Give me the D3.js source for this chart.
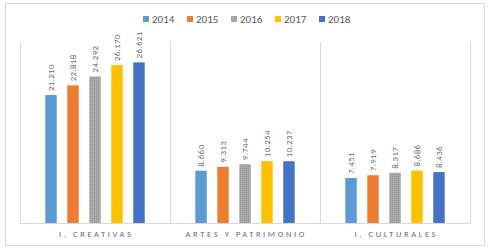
<!DOCTYPE html>
<html>
<head>
<meta charset="utf-8">
<script src="https://cdn.jsdelivr.net/npm/d3@7"></script>
<style>
  body { margin: 0; background: #fff; }
  svg text { font-family: Calibri, Carlito, "Liberation Sans", sans-serif; fill: #595959; }
</style>
</head>
<body>
<div id="chart"></div>
<script>
var categories = ["I. CREATIVAS", "ARTES Y PATRIMONIO", "I. CULTURALES"];
var years = ["2014", "2015", "2016", "2017", "2018"];
var values2014 = [21210, 8660, 7451];
var values2015 = [22818, 9313, 7919];
var values2016 = [24292, 9744, 8317];
var values2017 = [26170, 10254, 8686];
var values2018 = [26621, 10237, 8436];
var colors = ["#5b9bd5", "#ed7d31", "url(#grayDots)", "#ffc000", "#4472c4"];
var legendColors = ["#5b9bd5", "#ed7d31", "#a5a5a5", "#ffc000", "#4472c4"];

var series = [values2014, values2015, values2016, values2017, values2018];

var width = 488,
  height = 250,
  margin = { top: 42, right: 18, bottom: 27, left: 20 },
  innerWidth = width - margin.left - margin.right,
  innerHeight = height - margin.top - margin.bottom;

var svg = d3.select("#chart").append("svg")
  .attr("width", width)
  .attr("height", height);

// textured gray like the original
var defs = svg.append("defs");
var pat = defs.append("pattern")
  .attr("id", "grayDots")
  .attr("width", 2).attr("height", 2)
  .attr("patternUnits", "userSpaceOnUse");
pat.append("rect").attr("width", 2).attr("height", 2).attr("fill", "#a5a5a5");
pat.append("rect").attr("width", 1).attr("height", 1).attr("fill", "#999999");
pat.append("rect").attr("x", 1).attr("y", 1).attr("width", 1).attr("height", 1).attr("fill", "#b0b0b0");

// outer frame
svg.append("rect")
  .attr("x", 5.5).attr("y", 3.5)
  .attr("width", 479).attr("height", 242)
  .attr("fill", "none")
  .attr("stroke", "#d9d9d9");

var g = svg.append("g")
  .attr("transform", "translate(" + margin.left + "," + margin.top + ")");

var x0 = d3.scaleBand()
  .domain(categories)
  .range([0, innerWidth]);

var x1 = d3.scaleBand()
  .domain(years)
  .range([0, x0.bandwidth()])
  .paddingInner(0.48)
  .paddingOuter(1.15);

var y = d3.scaleLinear()
  .domain([0, 30000])
  .range([innerHeight, 0]);

var fmt = function (v) { return d3.format(",")(v).replace(/,/g, "."); };

// category separators
var seps = d3.range(categories.length + 1).map(function (i) { return i * x0.step(); });
g.selectAll(".sep")
  .data(seps)
  .enter().append("line")
  .attr("class", "sep")
  .attr("x1", function (d) { return Math.round(d) + 0.5; })
  .attr("x2", function (d) { return Math.round(d) + 0.5; })
  .attr("y1", 0)
  .attr("y2", innerHeight)
  .attr("stroke", "#d9d9d9");

g.append("line")
  .attr("x1", 0).attr("x2", innerWidth)
  .attr("y1", innerHeight + 0.5).attr("y2", innerHeight + 0.5)
  .attr("stroke", "#d9d9d9");

var groups = g.selectAll(".group")
  .data(categories)
  .enter().append("g")
  .attr("class", "group")
  .attr("transform", function (d) { return "translate(" + x0(d) + ",0)"; });

groups.each(function (cat, ci) {
  var grp = d3.select(this);
  var data = years.map(function (yr, si) { return { year: yr, value: series[si][ci], i: si }; });

  grp.selectAll("rect")
    .data(data)
    .enter().append("rect")
    .attr("x", function (d) { return x1(d.year); })
    .attr("y", function (d) { return y(d.value); })
    .attr("width", x1.bandwidth())
    .attr("height", function (d) { return innerHeight - y(d.value); })
    .attr("fill", function (d) { return colors[d.i]; });

  grp.selectAll(".lbl")
    .data(data)
    .enter().append("text")
    .attr("class", "lbl")
    .attr("transform", function (d) {
      return "translate(" + (x1(d.year) + x1.bandwidth() / 2 + 3) + "," + (y(d.value) - 4) + ") rotate(-90)";
    })
    .style("font-size", "9px")
    .style("letter-spacing", "0.3px")
    .style("fill", "#6b6b6b")
    .text(function (d) { return fmt(d.value); });
});

// category labels
g.selectAll(".cat")
  .data(categories)
  .enter().append("text")
  .attr("class", "cat")
  .attr("x", function (d) { return x0(d) + x0.bandwidth() / 2 + 1.3; })
  .attr("y", innerHeight + 14)
  .attr("text-anchor", "middle")
  .style("font-size", "8.5px")
  .style("letter-spacing", "2.6px")
  .style("fill", "#6b6b6b")
  .text(function (d) { return d; });

// legend
var legend = svg.append("g")
  .attr("transform", "translate(143,19)");

var item = legend.selectAll(".leg")
  .data(years)
  .enter().append("g")
  .attr("class", "leg")
  .attr("transform", function (d, i) { return "translate(" + (i * 44) + ",0)"; });

item.append("rect")
  .attr("x", 0).attr("y", -3)
  .attr("width", 6).attr("height", 6)
  .attr("fill", function (d, i) { return legendColors[i]; });

item.append("text")
  .attr("x", 9)
  .attr("y", 4)
  .style("font-size", "11px")
  .text(function (d) { return d; });
</script>
</body>
</html>
